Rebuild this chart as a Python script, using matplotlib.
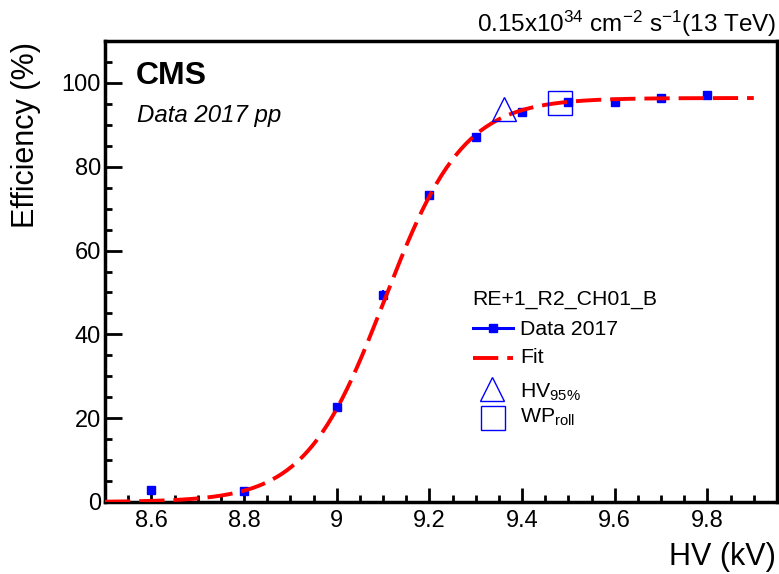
import numpy as np
import matplotlib
matplotlib.use('Agg')
import matplotlib.pyplot as plt
from matplotlib.ticker import MultipleLocator

# ===== 数据 =====
hv = [8.6, 8.8, 9.0, 9.1, 9.2, 9.3, 9.4, 9.5, 9.6, 9.7, 9.8]
eff = [2.9, 2.7, 22.7, 49.4, 73.3, 87.2, 93.1, 95.5, 95.5, 96.4, 97.0]
eff_err = [0.5, 0.5, 0.8, 1.2, 0.8, 0.6, 0.5, 0.4, 0.4, 0.4, 0.4]

# sigmoid 拟合参数
fit_emax = 96.4
fit_slope = 11.7
fit_hv50 = 9.103
fit_range = (8.5, 9.9)

hv95 = 9.361
hv95_eff = 93.7
wp_roll = 9.481
wp_eff = 95.2

chamber = 'RE+1_R2_CH01_B'
xtick_vals = [8.6, 8.8, 9.0, 9.2, 9.4, 9.6, 9.8]
xtick_labels = ['8.6', '8.8', '9', '9.2', '9.4', '9.6', '9.8']

# ===== 样式 =====
plt.rcParams['font.family'] = ['Liberation Sans', 'DejaVu Sans']
plt.rcParams['mathtext.fontset'] = 'custom'
plt.rcParams['mathtext.rm'] = 'Liberation Sans'
plt.rcParams['mathtext.it'] = 'Liberation Sans:italic'
plt.rcParams['mathtext.bf'] = 'Liberation Sans:bold'
plt.rcParams['mathtext.default'] = 'regular'

fig = plt.figure(figsize=(7.79, 5.74), dpi=100)
ax = fig.add_axes([105 / 779, 72 / 574, 672 / 779, 461 / 574])

ax.errorbar(hv, eff, yerr=eff_err, fmt='s', color='blue', ms=6,
            elinewidth=1.5, capsize=0, zorder=3)

xf = np.linspace(fit_range[0], fit_range[1], 400)
yf = fit_emax / (1 + np.exp(-fit_slope * (xf - fit_hv50)))
ax.plot(xf, yf, color='red', lw=2.8, dashes=(6.5, 2.3), zorder=4)

ax.plot([hv95], [hv95_eff], marker='^', ms=17.5, mfc='none', mec='blue',
        mew=1.0, ls='none', zorder=5)
ax.plot([wp_roll], [wp_eff], marker='s', ms=17.5, mfc='none', mec='blue',
        mew=1.0, ls='none', zorder=5)

ax.set_xticks(xtick_vals)
ax.set_xticklabels(xtick_labels)
ax.xaxis.set_minor_locator(MultipleLocator(0.05))
ax.yaxis.set_major_locator(MultipleLocator(20))
ax.yaxis.set_minor_locator(MultipleLocator(5))
ax.set_xlim(8.5, 9.95)
ax.set_ylim(0, 110)

ax.tick_params(axis='both', which='both', direction='in', labelsize=17,
               width=2, top=False, right=False)
ax.tick_params(axis='x', which='major', length=10, pad=6)
ax.tick_params(axis='x', which='minor', length=5)
ax.tick_params(axis='y', which='major', length=12, pad=3)
ax.tick_params(axis='y', which='minor', length=5)
for s in ax.spines.values():
    s.set_linewidth(2.5)

fig.text(0.996, 0.0157, 'HV (kV)', ha='right', va='baseline', fontsize=22)
fig.text(0.034, 0.926, 'Efficiency (%)', rotation=90, ha='center', va='top', fontsize=22)
fig.text(0.996, 0.944, r'0.15x10$^{34}$ cm$^{-2}$ s$^{-1}$(13 TeV)',
         ha='right', va='baseline', fontsize=17.5)

ax.text(0.0461, 0.9067, 'CMS', transform=ax.transAxes, fontsize=23,
        fontweight='bold', va='baseline')
ax.text(0.0476, 0.825, 'Data 2017 pp', transform=ax.transAxes, fontsize=17.3,
        style='italic', va='baseline')

# ===== 图例 =====
tr = ax.transAxes
lfs = 15.3
ax.text(0.546, 0.427, chamber, transform=tr, fontsize=lfs, va='baseline')
ax.plot([0.5476, 0.6071], [0.3774, 0.3774], transform=tr, color='blue', lw=2.2,
        clip_on=False)
ax.plot([0.5774], [0.3774], transform=tr, marker='s', ms=6, color='blue',
        clip_on=False)
ax.text(0.6176, 0.3623, 'Data 2017', transform=tr, fontsize=lfs, va='baseline')
ax.plot([0.5476, 0.6071], [0.3124, 0.3124], transform=tr, color='red', lw=2.8,
        dashes=(6.5, 2.3), clip_on=False)
ax.text(0.6176, 0.3015, 'Fit', transform=tr, fontsize=lfs, va='baseline')
ax.plot([0.576], [0.2459], transform=tr, marker='^', ms=17.5, mfc='none',
        mec='blue', mew=1.0, clip_on=False)
ax.text(0.6176, 0.2256, r'HV$_{95\%}$', transform=tr, fontsize=lfs, va='baseline')
ax.plot([0.5774], [0.1822], transform=tr, marker='s', ms=17.5, mfc='none',
        mec='blue', mew=1.0, clip_on=False)
ax.text(0.6176, 0.1714, r'WP$_{roll}$', transform=tr, fontsize=lfs, va='baseline')

fig.savefig('out.png', dpi=100)
